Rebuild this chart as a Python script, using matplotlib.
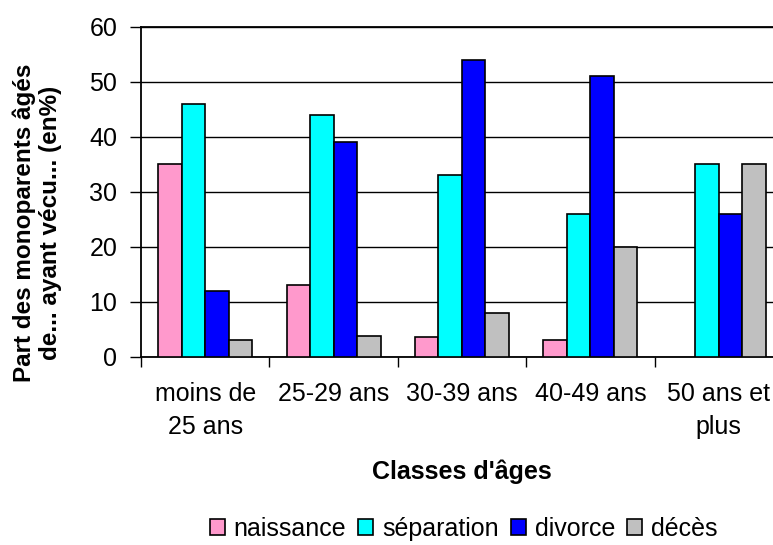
import numpy as np
import matplotlib.pyplot as plt

plt.rcParams['font.family'] = ['Liberation Sans', 'DejaVu Sans']

# Data
categories = ["moins de\n25 ans", "25-29 ans", "30-39 ans", "40-49 ans", "50 ans et\nplus"]
naissance = [35, 13, 3.6, 3, 0]
separation = [46, 44, 33, 26, 35]
divorce = [12, 39, 54, 51, 26]
deces = [3, 3.8, 8, 20, 35]

series = [("naissance", naissance, "#FF99CC"),
          ("séparation", separation, "#00FFFF"),
          ("divorce", divorce, "#0000FF"),
          ("décès", deces, "#C0C0C0")]

fig = plt.figure(figsize=(7.73, 5.45), dpi=100)
# plot area runs past the right edge of the picture, like the original
ax = fig.add_axes([0.1824, 0.345, 0.8305, 0.6055])

x = np.arange(len(categories))
w = 0.183
for i, (name, vals, col) in enumerate(series):
    vals = np.array(vals, dtype=float)
    vals[vals == 0] = np.nan
    ax.bar(x + (i - 1.5) * w, vals, w, color=col, edgecolor="black",
           linewidth=1.2, label=name, zorder=3)

ax.set_xlim(-0.5, len(categories) - 0.5)
ax.set_ylim(0, 60)
ax.set_yticks(range(0, 61, 10))
ax.yaxis.grid(True, color="black", linewidth=1, zorder=0)
ax.tick_params(axis="y", labelsize=18, direction="out", length=8, width=1, pad=9)

ax.set_xticks(x)
ax.set_xticklabels(categories, fontsize=18, linespacing=1.45)
ax.tick_params(axis="x", which="major", length=0, pad=18)
ax.set_xticks(np.arange(-0.5, len(categories)), minor=True)
ax.tick_params(axis="x", which="minor", length=7, width=1, direction="out")

ax.spines["right"].set_visible(False)
for s in ["left", "bottom", "top"]:
    ax.spines[s].set_linewidth(1.3)

fig.text(37.5 / 773, 1 - 223 / 545, "Part des monoparents âgés\nde... ayant vécu... (en%)",
         rotation=90, ha="center", va="center", fontsize=17.5, fontweight="bold",
         multialignment="center", linespacing=1.15)
ax.set_xlabel("Classes d'âges", fontsize=18, fontweight="bold", labelpad=15)

fig.legend(loc="center", bbox_to_anchor=(0.6, 0.03), ncol=4,
           frameon=False, fontsize=18, handlelength=0.6, handleheight=0.6,
           handletextpad=0.36, columnspacing=0.48, borderpad=0)

plt.savefig("out.png", dpi=100)
